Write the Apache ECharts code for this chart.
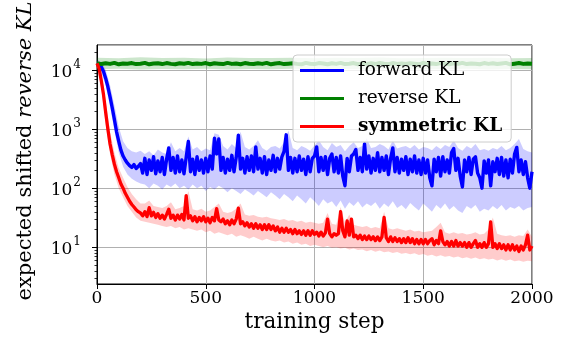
<!DOCTYPE html>
<html>
<head>
<meta charset="utf-8">
<script src="https://cdn.jsdelivr.net/npm/echarts@6/dist/echarts.min.js"></script>
<style>
  html, body { margin: 0; padding: 0; background: #fff; }
  #chart { width: 563px; height: 349px; }
</style>
</head>
<body>
<div id="chart"></div>
<script>
// lines are sampled every 10 steps, bands every 20, green band every 100
const fineStep = 10
const bandStep = 20

const forwardKL = [
  13000, 12600, 11200, 9400, 7200, 5200, 3500, 2300, 1450, 900, 620, 440, 350, 300, 265, 240, 225, 250, 215, 235, 260,
  180, 320, 170, 300, 200, 340, 175, 290, 190, 330,
  170, 310, 480, 200, 330, 180, 350, 190, 300, 175,
  330, 620, 190, 310, 170, 340, 200, 300, 180, 320,
  190, 350, 210, 700, 380, 680, 200, 330, 180, 310,
  200, 360, 190, 330, 790, 210, 320, 180, 340, 200,
  350, 190, 500, 210, 320, 180, 340, 170, 300, 200,
  360, 190, 320, 210, 340, 420, 800, 200, 330, 180,
  320, 190, 350, 200, 310, 170, 340, 190, 320, 350,
  500, 190, 330, 200, 340, 170, 320, 380, 190, 330,
  180, 350, 160, 110, 320, 190, 350, 380, 450, 200,
  330, 190, 560, 210, 350, 180, 320, 200, 400, 190,
  330, 200, 350, 170, 320, 480, 190, 330, 180, 310,
  200, 340, 170, 310, 190, 350, 180, 300, 170, 320,
  180, 300, 150, 110, 310, 190, 330, 160, 340, 190,
  300, 180, 400, 470, 200, 320, 160, 105, 300, 190,
  330, 170, 310, 340, 180, 150, 100, 290, 180, 300,
  110, 280, 190, 320, 170, 330, 160, 300, 150, 310,
  180, 380, 490, 190, 300, 170, 280, 150, 100, 190
]

const symmetricKL = [
  13000, 10500, 6500, 3800, 1900, 1000, 560, 370, 255, 190, 150, 118, 100, 82, 70, 60, 53, 48, 43, 40, 38,
  34, 40, 33, 47, 34, 39, 32, 37, 31, 35,
  30, 36, 44, 31, 35, 29, 35, 30, 36, 29,
  75, 31, 34, 28, 33, 27, 32, 28, 33, 27,
  31, 26, 32, 28, 45, 29, 27, 30, 25, 28,
  24, 29, 25, 30, 46, 25, 27, 23, 26, 22,
  25, 21, 25, 21, 24, 20, 24, 20, 24, 20,
  23, 19, 22, 18, 21, 18, 21, 18, 20, 17,
  20, 17, 19, 16.5, 19, 16, 19, 16, 19, 16.5,
  18, 15.5, 18, 15.5, 17.5, 30, 17, 15, 17, 16,
  17, 40, 19, 15, 28, 16, 30, 15, 16, 14,
  16, 13.5, 15.5, 13.5, 15.5, 13.5, 15, 13, 15, 13,
  15, 32, 14.5, 12.5, 15, 12.5, 14.5, 12.5, 14, 12,
  14, 12, 14.5, 12, 14, 11.5, 13.5, 11.5, 13.5, 11.5,
  13.5, 11.5, 13, 14, 11, 13, 11.5, 19, 12.5, 11,
  12.5, 10.5, 12.5, 10.5, 13, 10.5, 12, 10.5, 12, 10,
  12, 10, 11.5, 13, 10, 11.5, 10, 12, 10, 11.5,
  27, 10, 11.5, 9.5, 11.5, 9.5, 11, 9, 11, 9,
  11, 9, 10.5, 8.5, 10.5, 9, 11, 16, 9, 10.5
]

const reverseKL = [
  13100, 12600, 13000, 12700, 13200, 12500, 12900, 12800, 13100, 12600,
  12800, 13200, 12500, 12900, 13000, 12600, 13100, 12700, 12500, 13000,
  12800, 13200, 12600, 12900, 12700, 13100, 12500, 13000, 12800, 12600,
  13200, 12700, 12900, 12500, 13100, 12800, 12600, 13000, 12700, 13200,
  12500, 12900, 13100, 12600, 12800, 13000, 12700, 12500, 13200, 12800,
  12600, 13100, 12900, 12500, 13000, 12700, 13200, 12600, 12800, 13100,
  12500, 12900, 12700, 13000, 12600, 13200, 12800, 12500, 13100, 12700,
  12900, 12600, 13000, 12800, 12500, 13200, 12700, 12900, 12600, 13100,
  12800, 12500, 13000, 12700, 13200, 12600, 12900, 12800, 12500, 13100,
  12700, 13000, 12600, 12900, 13200, 12500, 12800, 13100, 12700, 12900, 12800
]

const forwardLo = [
  11500, 9000, 5500, 2400, 950, 400, 230, 170, 145, 130, 120,
  115, 100, 120, 110, 95, 115, 105, 120, 100, 110,
  95, 115, 100, 110, 90, 105, 95, 110, 100, 85,
  100, 90, 80, 95, 85, 75, 90, 80, 70, 85,
  75, 65, 80, 70, 60, 75, 65, 55, 70, 60,
  50, 65, 55, 60, 48, 62, 45, 58, 50, 60,
  47, 55, 50, 58, 45, 55, 48, 60, 46, 52,
  44, 56, 48, 42, 55, 47, 40, 52, 45, 55,
  43, 50, 42, 38, 50, 45, 52, 40, 45, 42,
  50, 44, 52, 42, 48, 45, 50, 42, 46, 48
]
const forwardHi = [
  15000, 13500, 10000, 5500, 2500, 1100, 620, 480, 420, 400, 430,
  380, 420, 360, 450, 400, 380, 600, 420, 480, 420,
  750, 450, 500, 420, 470, 440, 850, 800, 520, 450,
  560, 480, 900, 500, 450, 520, 650, 480, 430, 500,
  520, 470, 600, 950, 480, 440, 520, 480, 430, 530,
  650, 500, 440, 580, 500, 540, 420, 520, 600, 480,
  520, 700, 480, 500, 560, 520, 450, 650, 470, 500,
  520, 470, 540, 450, 500, 480, 440, 520, 460, 540,
  500, 650, 480, 430, 520, 470, 560, 440, 460, 430,
  480, 450, 520, 440, 480, 560, 680, 460, 420, 400
]

const symmetricLo = [
  11000, 5000, 1200, 380, 170, 100, 70, 50, 40, 32, 28,
  27, 26, 25, 24, 23, 22, 23, 21, 22, 20,
  21, 20, 19, 20, 18, 19, 17, 18, 17, 16,
  17, 15, 16, 15, 14, 15, 14, 13, 14, 13,
  12.5, 13, 12, 12.5, 11.5, 12, 11, 11.5, 10.5, 11,
  10.5, 10, 10.5, 9.8, 10, 9.5, 9.8, 9.2, 9.5, 9,
  9.2, 8.6, 9, 8.4, 8.8, 8.2, 8.5, 8, 8.3, 7.8,
  8, 7.6, 7.9, 7.4, 7.7, 7.2, 7.5, 7, 7.3, 6.9,
  7.1, 6.7, 7, 6.5, 6.8, 6.4, 6.7, 6.3, 6.5, 6.2,
  6.4, 6, 6.3, 5.9, 6.2, 5.8, 6, 5.7, 5.9, 5.8
]
const symmetricHi = [
  15000, 9000, 3000, 900, 400, 220, 150, 105, 80, 65, 55,
  55, 62, 50, 48, 46, 50, 58, 44, 46, 50,
  90, 44, 42, 45, 40, 42, 48, 55, 40, 38,
  40, 45, 55, 36, 34, 35, 33, 32, 33, 31,
  30, 29, 30, 28, 29, 27, 28, 26, 27, 26,
  25, 26, 38, 25, 24, 48, 26, 36, 24, 23,
  22, 23, 21, 22, 21, 40, 21, 20, 21, 20,
  19, 20, 18.5, 19, 18, 18.5, 19, 22, 26, 18,
  17, 18, 17, 17.5, 16.5, 17, 18, 16.5, 17, 20,
  32, 17, 16, 15.5, 16, 15, 16, 15.5, 20, 15
]

const reverseBandStep = 100
const reverseLo = [10300, 10500, 10200, 10400, 10300, 10500, 10200, 10400, 10300, 10500, 10200,
  10400, 10300, 10500, 10200, 10400, 10300, 10500, 10200, 10400, 10300]
const reverseHi = [16200, 15800, 16400, 15900, 16100, 15700, 16300, 15900, 16000, 16200, 15800,
  16100, 15900, 16300, 15800, 16000, 16200, 15900, 16100, 15800, 16000]

const xTicks = [0, 500, 1000, 1500, 2000]
const yMin = 2.39
const yMax = 26500

const FONT = 'DejaVu Serif'

function pairs(values, step) {
  return values.map((v, i) => [i * step, v])
}
function isPow10(v) {
  const l = Math.log10(v)
  return Math.abs(l - Math.round(l)) < 1e-6
}

// y tick marks (major 10^k, minor 2..9 x 10^k) drawn through the axis scale
const yTickMarks = []
for (let k = 0; k <= 4; k++) {
  for (let m = 1; m <= 9; m++) {
    const v = m * Math.pow(10, k)
    if (v >= yMin && v <= yMax) yTickMarks.push([0, v, m === 1 ? 1 : 0])
  }
}

// shaded band: one polygon, upper edge then lower edge backwards
function band(lo, hi, step, color) {
  return {
    type: 'custom',
    silent: true,
    clip: true,
    data: lo.map((v, i) => [i * step, v, hi[i]]),
    encode: { x: 0, y: [1, 2] },
    renderItem: (params, api) => {
      if (params.dataIndex !== 0) return null
      const top = hi.map((v, i) => api.coord([i * step, v]))
      const bottom = lo.map((v, i) => api.coord([i * step, v])).reverse()
      return { type: 'polygon', shape: { points: top.concat(bottom) }, style: { fill: color } }
    },
  }
}

function line(name, values, step, color, width) {
  return {
    name, type: 'line', data: pairs(values, step), symbol: 'none',
    lineStyle: { color, width, join: 'round' }, itemStyle: { color },
  }
}

const chart = echarts.init(document.getElementById('chart'))
chart.setOption({
  animation: false,
  backgroundColor: '#fff',
  grid: { left: 97, right: 31, top: 45, bottom: 65, show: true, borderColor: '#000', borderWidth: 1 },
  legend: {
    orient: 'vertical',
    left: 293,
    top: 55,
    data: [
      { name: 'forward KL' },
      { name: 'reverse KL' },
      { name: 'symmetric KL', textStyle: { fontWeight: 'bold' } },
    ],
    icon: 'rect',
    itemWidth: 44,
    itemHeight: 3,
    itemGap: 9,
    textStyle: { fontFamily: FONT, fontSize: 18.5, color: '#000', padding: [0, 0, 0, 9] },
    backgroundColor: 'rgba(255,255,255,0.8)',
    borderColor: '#cccccc',
    borderWidth: 1,
    borderRadius: 4,
    padding: [6, 9, 6, 7],
  },
  xAxis: {
    type: 'value',
    min: xTicks[0],
    max: xTicks[xTicks.length - 1],
    interval: 500,
    name: 'training step',
    nameLocation: 'middle',
    nameGap: 26,
    nameTextStyle: { fontFamily: FONT, fontSize: 21.5, color: '#000' },
    axisLine: { lineStyle: { color: '#000', width: 1 } },
    axisTick: { length: 5, lineStyle: { color: '#000', width: 1 } },
    axisLabel: { fontFamily: FONT, fontSize: 17, color: '#000', margin: 6, formatter: (v) => String(v) },
    splitLine: { show: true, lineStyle: { color: '#b0b0b0', width: 1 } },
  },
  yAxis: {
    type: 'log',
    logBase: 10,
    min: yMin,
    max: yMax,
    axisLine: { show: true, lineStyle: { color: '#000', width: 1 } },
    axisTick: { show: false },
    axisLabel: {
      margin: 16,
      formatter: (v) => (isPow10(v) ? '{b|10}{s|' + Math.round(Math.log10(v)) + '}' : ''),
      rich: {
        b: { fontFamily: FONT, fontSize: 17, color: '#000', verticalAlign: 'bottom' },
        s: { fontFamily: FONT, fontSize: 12, color: '#000', verticalAlign: 'bottom', padding: [0, 0, 10, 1] },
      },
    },
    splitLine: { show: true, lineStyle: { color: '#b0b0b0', width: 1 } },
  },
  graphic: [
    {
      type: 'text',
      x: 26,
      y: 151,
      rotation: Math.PI / 2,
      style: {
        text: 'expected shifted {i|reverse KL}',
        fontFamily: FONT,
        fontSize: 21,
        fill: '#000',
        align: 'center',
        verticalAlign: 'middle',
        rich: { i: { fontFamily: FONT, fontSize: 21, fontStyle: 'italic', fill: '#000' } },
      },
    },
  ],
  series: [
    band(reverseLo, reverseHi, reverseBandStep, 'rgba(0,128,0,0.2)'),
    band(forwardLo, forwardHi, bandStep, 'rgba(0,0,255,0.2)'),
    band(symmetricLo, symmetricHi, bandStep, 'rgba(255,0,0,0.2)'),
    line('forward KL', forwardKL, fineStep, '#0000ff', 3.4),
    line('reverse KL', reverseKL, bandStep, '#008000', 4),
    line('symmetric KL', symmetricKL, fineStep, '#ff0000', 3.3),
    {
      name: 'yTicks',
      type: 'custom',
      silent: true,
      clip: false,
      data: yTickMarks,
      renderItem: (params, api) => {
        const p = api.coord([api.value(0), api.value(1)])
        const major = api.value(2) === 1
        const len = major ? 5 : 2.5
        const y = Math.round(p[1]) + 0.5
        return {
          type: 'line',
          shape: { x1: p[0] - len, y1: y, x2: p[0], y2: y },
          style: { stroke: '#000', lineWidth: major ? 1 : 0.8 },
        }
      },
    },
  ],
})
</script>
</body>
</html>
